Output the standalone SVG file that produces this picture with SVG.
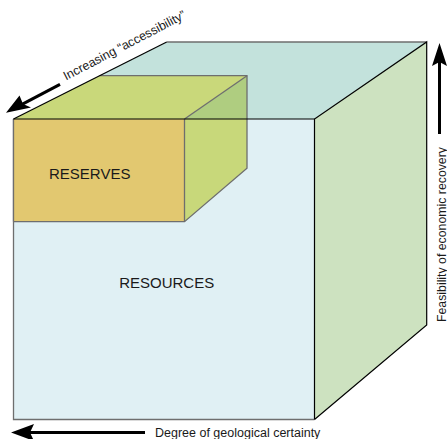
<svg xmlns="http://www.w3.org/2000/svg" width="447" height="439" viewBox="0 0 447 439">
<style>
text{font-family:"Liberation Sans",Arial,sans-serif;fill:#1a1a1a}
.lbl{font-size:15px;text-anchor:middle}
.ax{font-size:12.5px}
.edge{stroke:#000;stroke-width:1.2;fill:none}
.gedge{stroke:#6e6e6e;stroke-width:1.3;fill:none}
</style>
<g id="resources">
<polygon points="13.5,119 166.7,42 426.7,42 314.5,119" fill="#c3e2dc"/>
<polygon points="314.5,119 426.7,42 426.7,325 314.5,419.5" fill="#cde2c0"/>
<rect x="13.5" y="119" width="301" height="300.5" fill="#e0f0f4"/>
<polyline class="gedge" points="314.5,419.5 13.5,419.5 13.5,119"/>
<line class="gedge" x1="166.7" y1="42" x2="426.7" y2="42"/>
<polyline class="edge" points="314.5,419.5 426.7,325 426.7,42 314.5,119 314.5,419.5"/>
<text class="lbl" x="166.7" y="288">RESOURCES</text>
</g>
<g id="reserves">
<polygon points="13.5,119 99.6,75.7 247,75.7 184.5,119" fill="#c9d87a"/>
<polygon points="184.5,119 247,75.7 247,119" fill="#afcd80"/>
<polygon points="184.5,119 247,119 247,168.3 184.5,221.7" fill="#c8d87a"/>
<rect x="13.5" y="119" width="171" height="102.7" fill="#e2c870"/>
<polyline class="gedge" points="99.6,75.7 247,75.7 247,168.3 184.5,221.7 13.5,221.7"/>
<line class="gedge" x1="184.5" y1="119" x2="247" y2="75.7"/>
<line class="gedge" x1="184.5" y1="119" x2="184.5" y2="221.7"/>
<line class="gedge" x1="13.5" y1="119" x2="13.5" y2="221.7"/>
<text class="lbl" x="89.7" y="179">RESERVES</text>
</g>
<g id="connectors">
<line class="edge" x1="13.5" y1="119" x2="314.5" y2="119"/>
<line class="edge" x1="13.5" y1="119" x2="166.7" y2="42"/>
<line x1="60" y1="84.3" x2="22" y2="104.3" stroke="#000" stroke-width="3"/>
<path d="M6,112.7 L19.5,95.5 L23,104 L31,107.5 Z" fill="#000"/>
<line x1="439.5" y1="134" x2="439.5" y2="60" stroke="#000" stroke-width="3"/>
<path d="M439.5,43 L447,66 L439.5,62 L432,66 Z" fill="#000"/>
<line x1="145" y1="432.5" x2="28" y2="432.5" stroke="#000" stroke-width="3"/>
<path d="M11,432.5 L34,424 L30,432.5 L34,441 Z" fill="#000"/>
</g>
<g id="axis-labels">
<text class="ax" transform="translate(66,80.5) rotate(-27.5)">Increasing “accessibility”</text>
<text class="ax" style="font-size:12.3px" transform="translate(445.5,322) rotate(-90)">Feasibility of economic recovery</text>
<text class="ax" x="155" y="437">Degree of geological certainty</text>
</g>
</svg>
